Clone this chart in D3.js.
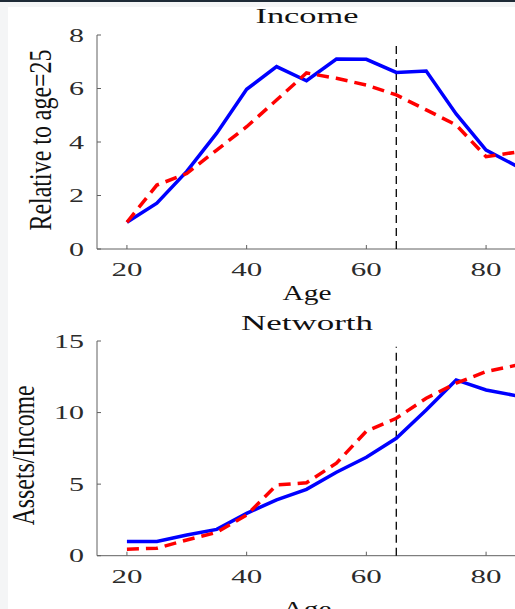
<!DOCTYPE html>
<html>
<head>
<meta charset="utf-8">
<script src="https://cdn.jsdelivr.net/npm/d3@7"></script>
<style>
  html, body { margin: 0; padding: 0; background: #ffffff; }
  svg { display: block; }
  text { font-family: "Liberation Serif", "Times New Roman", serif; }
</style>
</head>
<body>
<script>
// ---- data ----
const ages = [20, 25, 30, 35, 40, 45, 50, 55, 60, 65, 70, 75, 80, 85];
const incomeModel = [1.0, 1.71, 2.9, 4.33, 5.97, 6.82, 6.29, 7.10, 7.09, 6.60, 6.65, 5.05, 3.70, 3.11];
const incomeData  = [1.0, 2.39, 2.82, 3.70, 4.57, 5.57, 6.58, 6.38, 6.13, 5.76, 5.20, 4.64, 3.45, 3.62];
const networthModel = [1.0, 1.0, 1.45, 1.84, 2.96, 3.90, 4.64, 5.83, 6.88, 8.20, 10.18, 12.28, 11.58, 11.18];
const networthData  = [0.45, 0.52, 1.10, 1.63, 2.84, 4.94, 5.10, 6.46, 8.70, 9.60, 11.00, 12.05, 12.86, 13.30];
const xTicks = [20, 40, 60, 80];
const incomeTicks = [0, 2, 4, 6, 8];
const networthTicks = [0, 5, 10, 15];
const retireAge = 65;
const panels = [
  { title: "Income", ylabel: "Relative to age=25", yMax: 8, ticks: incomeTicks,
    model: incomeModel, data: incomeData, vTop: 7.75 },
  { title: "Networth", ylabel: "Assets/Income", yMax: 15, ticks: networthTicks,
    model: networthModel, data: networthData, vTop: 14.6 }
];

// ---- layout ----
const W = 515, H = 609;
const svg = d3.select("body").append("svg").attr("width", W).attr("height", H);

// page decorations
svg.append("rect").attr("x", 0).attr("y", 0).attr("width", W).attr("height", H).attr("fill", "#f4f5f6");
svg.append("rect").attr("x", 8).attr("y", 7).attr("width", W - 8).attr("height", H - 7).attr("fill", "#ffffff");
svg.append("rect").attr("x", 0).attr("y", 0).attr("width", W).attr("height", 2).attr("fill", "#1e2a36");

const x = d3.scaleLinear().domain([15, 85]).range([97, 516]);
const layouts = [
  { top: 35, bottom: 249, titleY: 23, tickY: 276, ageY: 300, ylabX: 40, ylabLen: 181, ylabW: 21 },
  { top: 341, bottom: 555.7, titleY: 330, tickY: 583, ageY: 616, ylabX: 23, ylabLen: 140, ylabW: 21 }
];

panels.forEach((p, i) => {
  const L = layouts[i];
  const y = d3.scaleLinear().domain([0, p.yMax]).range([L.bottom, L.top]);
  const g = svg.append("g");
  const axisColor = "#606060";

  // axes lines
  g.append("line").attr("x1", x.range()[0]).attr("x2", x.range()[1])
    .attr("y1", L.bottom).attr("y2", L.bottom).attr("stroke", axisColor).attr("stroke-width", 1);
  g.append("line").attr("x1", 97).attr("x2", 97)
    .attr("y1", L.top).attr("y2", L.bottom).attr("stroke", axisColor).attr("stroke-width", 1);

  // x ticks (inward)
  xTicks.forEach(t => {
    g.append("line").attr("x1", x(t)).attr("x2", x(t)).attr("y1", L.bottom).attr("y2", L.bottom - 4)
      .attr("stroke", axisColor).attr("stroke-width", 1);
    g.append("text").attr("x", x(t)).attr("y", L.tickY).attr("text-anchor", "middle")
      .attr("font-size", 19.5).attr("fill", "#2b2b2b")
      .attr("textLength", String(t).length * 15.5).attr("lengthAdjust", "spacingAndGlyphs")
      .text(t);
  });
  // y ticks (inward)
  p.ticks.forEach(t => {
    g.append("line").attr("x1", 97).attr("x2", 101).attr("y1", y(t)).attr("y2", y(t))
      .attr("stroke", axisColor).attr("stroke-width", 1);
    const len = String(t).length * 15;
    g.append("text").attr("x", 84).attr("y", y(t)).attr("dy", "0.34em").attr("text-anchor", "end")
      .attr("font-size", 19.5).attr("fill", "#2b2b2b")
      .attr("textLength", len).attr("lengthAdjust", "spacingAndGlyphs")
      .text(t);
  });

  // title
  g.append("text").attr("x", 307).attr("y", L.titleY).attr("text-anchor", "middle")
    .attr("font-size", 21).attr("fill", "#111")
    .attr("textLength", p.title === "Income" ? 103 : 132).attr("lengthAdjust", "spacingAndGlyphs")
    .text(p.title);
  // x label
  g.append("text").attr("x", 307).attr("y", L.ageY).attr("text-anchor", "middle")
    .attr("font-size", 21).attr("fill", "#111")
    .attr("textLength", 49).attr("lengthAdjust", "spacingAndGlyphs")
    .text("Age");
  // y label (rotated, stretched horizontally)
  const cy = (L.top + L.bottom) / 2 + (i === 0 ? -2 : 7);
  g.append("text")
    .attr("transform", `translate(${L.ylabX},${cy}) scale(1.4,1) rotate(-90)`)
    .attr("text-anchor", "middle").attr("dy", "0.35em")
    .attr("font-size", 23).attr("fill", "#111")
    .attr("textLength", L.ylabLen).attr("lengthAdjust", "spacingAndGlyphs")
    .text(p.ylabel);

  // retirement line
  g.append("line").attr("x1", x(retireAge)).attr("x2", x(retireAge))
    .attr("y1", y(0)).attr("y2", y(p.vTop))
    .attr("stroke", "#000").attr("stroke-width", 1.3).attr("stroke-dasharray", "8,5");

  const line = d3.line().x((d, j) => x(ages[j])).y(d => y(d));
  g.append("path").datum(p.model).attr("d", line).attr("fill", "none")
    .attr("stroke", "#0000ff").attr("stroke-width", 3.5).attr("stroke-linejoin", "miter");
  g.append("path").datum(p.data).attr("d", line).attr("fill", "none")
    .attr("stroke", "#ff0000").attr("stroke-width", 3.5).attr("stroke-dasharray", "12,7");
});
</script>
</body>
</html>
